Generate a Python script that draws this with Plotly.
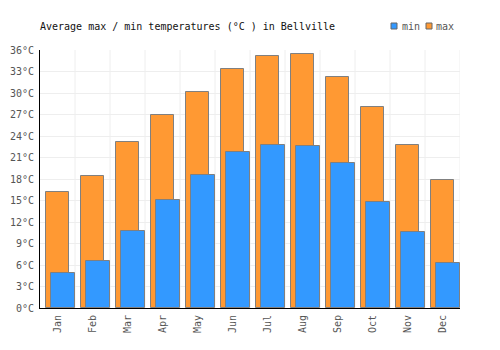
import plotly.graph_objects as go

months = ["Jan", "Feb", "Mar", "Apr", "May", "Jun", "Jul", "Aug", "Sep", "Oct", "Nov", "Dec"]
t_max = [16.2, 18.4, 23.1, 26.9, 30.1, 33.3, 35.1, 35.5, 32.3, 28.1, 22.8, 17.9]
t_min = [4.9, 6.6, 10.7, 15.1, 18.6, 21.7, 22.8, 22.6, 20.2, 14.8, 10.6, 6.3]
y_ticks = list(range(0, 37, 3))
y_labels = [f"{v}°C" for v in y_ticks]

FONT = "DejaVu Sans Mono"
pos = list(range(len(months)))
W, H = 500, 350
L, R, T, B = 40, 40, 50, 42
PW, PH = W - L - R, H - T - B


def px_x(p):
    return (p - L) / PW


def px_y(p):
    return (H - B - p) / PH


fig = go.Figure()
fig.add_trace(go.Bar(
    x=pos, y=t_max, name="max", width=0.66, offset=-0.34,
    marker=dict(color="#ff9933", line=dict(color="#808080", width=1)),
))
fig.add_trace(go.Bar(
    x=pos, y=t_min, name="min", width=0.7, offset=-0.19,
    marker=dict(color="#3399ff", line=dict(color="#808080", width=1)),
))

fig.update_layout(
    width=W, height=H,
    margin=dict(l=L, r=R, t=T, b=B, autoexpand=False),
    barmode="overlay",
    plot_bgcolor="white", paper_bgcolor="white",
    font=dict(family=FONT, size=10, color="#555555"),
    title=dict(text="Average max / min temperatures (°C ) in Bellville",
               x=40 / W, xanchor="left", xref="container",
               y=1 - 26 / H, yanchor="middle", yref="container",
               font=dict(family=FONT, size=10, color="#111111")),
    showlegend=False,
    bargap=0,
)

# manual legend
legend_items = [("min", "#3399ff", 391, 400), ("max", "#ff9933", 426, 434)]
for name, color, sx, tx in legend_items:
    fig.add_shape(type="rect", xref="paper", yref="paper",
                  x0=px_x(sx), x1=px_x(sx + 6), y0=px_y(29), y1=px_y(23),
                  fillcolor=color, line=dict(color="#666666", width=1))
    fig.add_annotation(text=name, xref="paper", yref="paper",
                       x=px_x(tx), y=px_y(26), xanchor="left", yanchor="middle",
                       showarrow=False,
                       font=dict(family=FONT, size=10, color="#555555"))

fig.update_xaxes(
    range=[-0.5, len(months) - 0.5],
    tickvals=pos, ticktext=months, tickangle=-90,
    showgrid=False, showline=True, linecolor="#000000", linewidth=1,
    zeroline=False, ticks="outside", ticklen=2, tickcolor="rgba(0,0,0,0)",
    automargin=False,
)
# vertical grid lines at category boundaries
for i in range(1, len(months) + 1):
    fig.add_shape(type="line", xref="x", yref="paper",
                  x0=i - 0.5, x1=i - 0.5, y0=0, y1=1,
                  line=dict(color="#eeeeee", width=1), layer="below")
fig.update_yaxes(
    range=[0, 36], tickvals=y_ticks, ticktext=y_labels,
    showgrid=True, gridcolor="#eeeeee", gridwidth=1,
    showline=True, linecolor="#000000", linewidth=1,
    zeroline=False, ticks="outside", ticklen=3, tickcolor="rgba(0,0,0,0)",
    automargin=False,
)

fig.write_html("out.html")
